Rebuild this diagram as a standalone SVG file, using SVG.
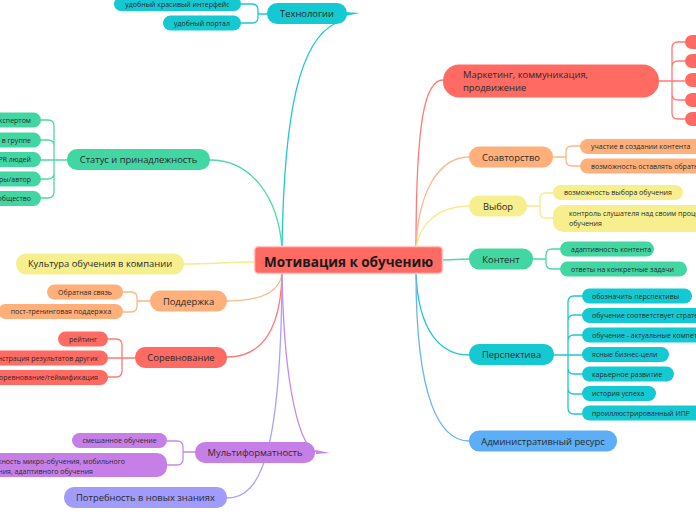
<svg xmlns="http://www.w3.org/2000/svg" width="696" height="520" viewBox="0 0 696 520">
<style>
text{font-family:"Open Sans","Noto Sans","Liberation Sans",sans-serif;fill:#2a2a2a}
.m{font-size:9.4px;text-anchor:middle}
.ml{font-size:9.4px}
.c{font-size:7px;text-anchor:middle}
.cl{font-size:7px}
.ce{font-size:7px;text-anchor:end}
.ln{fill:none;stroke-width:1.3;stroke-linecap:round}
.red{fill:#FF6B63}.ora{fill:#FFB07A}.yel{fill:#F7EF8E}.grn{fill:#42D6A2}.cyn{fill:#14C9D1}.pur{fill:#C77FE8}.lav{fill:#A29BFE}.blu{fill:#5CAEF6}
.sred{stroke:#FF7A72}.sora{stroke:#FFB589}.syel{stroke:#F4EC8A}.sgrn{stroke:#4FD8A8}.scyn{stroke:#1FC8D0}.spur{stroke:#C68BE8}.slav{stroke:#A9A2FE}.sblu{stroke:#67B4F6}
</style>
<g id="connectors">
<path class="ln scyn" d="M282,248 C284,110 300,40 336,23"/>
<polygon points="345,12 360,13 345,16" fill="#1FC8D0"/>
<path class="ln sgrn" d="M282,248 C278,195 250,160 210,160"/>
<path class="ln syel" d="M255,262 C230,262 210,264 184,264"/>
<path class="ln sora" d="M282,273 C280,292 262,301 227,301"/>
<path class="ln sred" d="M282,273 C281,330 262,357 227,357"/>
<path class="ln spur" d="M282,273 C284,390 300,450 318,452"/>
<polygon points="316,450 330,453 316,454" fill="#C68BE8"/>
<path class="ln slav" d="M282,273 C281,450 262,498 227,498"/>
<path class="ln sred" d="M416,248 C416,120 425,80 443,80"/>
<path class="ln sora" d="M416,248 C418,190 440,157 469,157"/>
<path class="ln syel" d="M416,248 C420,222 440,206 469,206"/>
<path class="ln sgrn" d="M443,260 L469,259"/>
<path class="ln scyn" d="M416,273 C418,330 440,355 469,355"/>
<path class="ln sblu" d="M416,273 C416,400 440,441 469,441"/>
<path class="ln scyn" d="M267,14 H258 M258,14 V10 Q258,4 252,4 H241 M258,14 V17 Q258,23 252,23 H241"/>
<path class="ln sgrn" d="M67,160 H54 M54,160 V126 Q54,120 48,120 H41 M54,160 V146 Q54,140 48,140 H41 M54,160 H41 M54,160 V173 Q54,179 48,179 H41 M54,160 V192 Q54,198 48,198 H41"/>
<path class="ln sora" d="M150,301 H137 M137,301 V298 Q137,292 131,292 H123 M137,301 V306 Q137,312 131,312 H123"/>
<path class="ln sred" d="M135,358 H122 M122,358 V345 Q122,339 116,339 H108 M122,358 H108 M122,358 V371 Q122,377 116,377 H108"/>
<path class="ln spur" d="M195,452 H183 M183,452 V447 Q183,441 177,441 H167 M183,452 V459 Q183,465 177,465 H167"/>
<path class="ln sred" d="M659,81 H672 M672,81 V48 Q672,42 678,42 H685 M672,81 V67 Q672,61 678,61 H685 M672,81 H685 M672,81 V94 Q672,100 678,100 H685 M672,81 V113 Q672,119 678,119 H685"/>
<path class="ln sora" d="M553,157 H566 M566,157 V152 Q566,146 572,146 H580 M566,157 V160 Q566,166 572,166 H580"/>
<path class="ln syel" d="M527,206 H540 M540,206 V199 Q540,193 546,193 H553 M540,206 V212 Q540,218 546,218 H553"/>
<path class="ln sgrn" d="M533,259 H546 M546,259 V255 Q546,249 552,249 H560 M546,259 V263 Q546,269 552,269 H560"/>
<path class="ln scyn" d="M554,355 H568 M568,355 V302 Q568,296 574,296 H582 M568,355 V321 Q568,315 574,315 H582 M568,355 V341 Q568,335 574,335 H582 M568,355 H582 M568,355 V368 Q568,374 574,374 H582 M568,355 V388 Q568,394 574,394 H582 M568,355 V408 Q568,414 574,414 H582"/>
</g>
<g id="root">
<rect x="254.5" y="246.5" width="188" height="27" rx="4" class="red" stroke="#FFC9C4" stroke-width="1.5"/>
<text x="348.5" y="266.5" style="font-size:13.5px;font-weight:bold;text-anchor:middle;fill:#1a1a1a">Мотивация к обучению</text>
</g>
<g id="n-tech">
<rect x="267" y="3" width="80" height="21" rx="10" class="cyn"/>
<text x="307" y="17.3" class="m">Технологии</text>
<rect x="114" y="-3" width="127" height="14" rx="7" class="cyn"/>
<text x="177.5" y="6.6" class="c">удобный красивый интерфейс</text>
<rect x="163" y="15.5" width="78" height="15" rx="7.5" class="cyn"/>
<text x="202" y="25.5" class="c">удобный портал</text>
</g>
<g id="n-status">
<rect x="67" y="149" width="143" height="21" rx="10" class="grn"/>
<text x="138.5" y="163.3" class="m">Статус и принадлежность</text>
<rect x="-20" y="112.5" width="61" height="15" rx="7.5" class="grn"/>
<text x="31" y="122.5" class="ce">быть экспертом</text>
<rect x="-20" y="132.5" width="61" height="15" rx="7.5" class="grn"/>
<text x="31" y="142.5" class="ce">статус в группе</text>
<rect x="-20" y="152" width="61" height="15" rx="7.5" class="grn"/>
<text x="31" y="162" class="ce">PR людей</text>
<rect x="-20" y="171.5" width="61" height="15" rx="7.5" class="grn"/>
<text x="31" y="181.5" class="ce">спикеры/автор</text>
<rect x="-20" y="191" width="61" height="15" rx="7.5" class="grn"/>
<text x="31" y="201" class="ce">сообщество</text>
</g>
<g id="n-culture">
<rect x="16" y="253.5" width="168" height="21" rx="10" class="yel"/>
<text x="100" y="267.3" class="m">Культура обучения в компании</text>
</g>
<g id="n-support">
<rect x="150" y="290.5" width="77" height="21" rx="10" class="ora"/>
<text x="188.5" y="304.8" class="m">Поддержка</text>
<rect x="47" y="284.5" width="76" height="15" rx="7.5" class="ora"/>
<text x="85" y="294.5" class="c">Обратная связь</text>
<rect x="-2" y="304" width="125" height="15" rx="7.5" class="ora"/>
<text x="61" y="314" class="c">пост-тренинговая поддержка</text>
</g>
<g id="n-compet">
<rect x="135" y="347" width="92" height="21" rx="10" class="red"/>
<text x="181" y="361.3" class="m">Соревнование</text>
<rect x="58" y="331.5" width="50" height="15" rx="7.5" class="red"/>
<text x="83" y="341.5" class="c">рейтинг</text>
<rect x="-20" y="350.5" width="128" height="15" rx="7.5" class="red"/>
<text x="98" y="360.5" class="ce">демонстрация результатов других</text>
<rect x="-20" y="370" width="128" height="15" rx="7.5" class="red"/>
<text x="98" y="380" class="ce">соревнование/геймификация</text>
</g>
<g id="n-multi">
<rect x="195" y="442" width="120" height="21" rx="10" class="pur"/>
<text x="255" y="456.3" class="m">Мультиформатность</text>
<rect x="72" y="433" width="95" height="15" rx="7.5" class="pur"/>
<text x="119.5" y="443" class="c">смешанное обучение</text>
<rect x="-20" y="453" width="187" height="24" rx="10" class="pur"/>
<text x="125" y="463.5" class="ce">возможность микро-обучения, мобильного</text>
<text x="93" y="473.5" class="ce">обучения, адаптивного обучения</text>
</g>
<g id="n-need">
<rect x="64" y="487" width="163" height="21" rx="10" class="lav"/>
<text x="145.5" y="501.3" class="m">Потребность в новых знаниях</text>
</g>
<g id="n-marketing">
<rect x="443" y="64.5" width="216" height="33" rx="16" class="red"/>
<text x="463" y="78" class="ml">Маркетинг, коммуникация,</text>
<text x="463" y="91" class="ml">продвижение</text>
<rect x="685" y="35" width="30" height="14" rx="7" class="red"/>
<rect x="685" y="54" width="30" height="14" rx="7" class="red"/>
<rect x="685" y="73" width="30" height="14" rx="7" class="red"/>
<rect x="685" y="93" width="30" height="14" rx="7" class="red"/>
<rect x="685" y="112" width="30" height="14" rx="7" class="red"/>
</g>
<g id="n-coauthor">
<rect x="469" y="146.5" width="84" height="21" rx="10" class="ora"/>
<text x="511" y="160.8" class="m">Соавторство</text>
<rect x="580" y="139" width="130" height="15" rx="7.5" class="ora"/>
<text x="591" y="149" class="cl">участие в создании контента</text>
<rect x="580" y="158.5" width="130" height="15" rx="7.5" class="ora"/>
<text x="591" y="168.5" class="cl">возможность оставлять обратную связь</text>
</g>
<g id="n-choice">
<rect x="469" y="195.5" width="58" height="21" rx="10" class="yel"/>
<text x="498" y="209.8" class="m">Выбор</text>
<rect x="553" y="185" width="130" height="15" rx="7.5" class="yel"/>
<text x="564" y="195" class="cl">возможность выбора обучения</text>
<rect x="553" y="205" width="160" height="27" rx="10" class="yel"/>
<text x="569" y="216" class="cl">контроль слушателя над своим процессом</text>
<text x="569" y="225.8" class="cl">обучения</text>
</g>
<g id="n-content">
<rect x="469" y="248.5" width="64" height="21" rx="10" class="grn"/>
<text x="501" y="262.8" class="m">Контент</text>
<rect x="560" y="241.5" width="94" height="15" rx="7.5" class="grn"/>
<text x="571" y="251.5" class="cl">адаптивность контента</text>
<rect x="560" y="261.5" width="127" height="15" rx="7.5" class="grn"/>
<text x="571" y="271.5" class="cl">ответы на конкретные задачи</text>
</g>
<g id="n-persp">
<rect x="469" y="344" width="85" height="21" rx="10" class="cyn"/>
<text x="511.5" y="358.3" class="m">Перспектива</text>
<rect x="582" y="288.5" width="110" height="15" rx="7.5" class="cyn"/>
<text x="592" y="298.5" class="cl">обозначить перспективы</text>
<rect x="582" y="308" width="130" height="15" rx="7.5" class="cyn"/>
<text x="592" y="318" class="cl">обучение соответствует стратегии</text>
<rect x="582" y="327.5" width="130" height="15" rx="7.5" class="cyn"/>
<text x="592" y="337.5" class="cl">обучение - актуальные компетенции</text>
<rect x="582" y="347" width="87" height="15" rx="7.5" class="cyn"/>
<text x="592" y="357" class="cl">ясные бизнес-цели</text>
<rect x="582" y="366.5" width="92" height="15" rx="7.5" class="cyn"/>
<text x="592" y="376.5" class="cl">карьерное развитие</text>
<rect x="582" y="386" width="74" height="15" rx="7.5" class="cyn"/>
<text x="592" y="396" class="cl">история успеха</text>
<rect x="582" y="405.5" width="125" height="15" rx="7.5" class="cyn"/>
<text x="592" y="415.5" class="cl">проиллюстрированный ИПР</text>
</g>
<g id="n-admin">
<rect x="469" y="430.5" width="148" height="21" rx="10" class="blu"/>
<text x="543" y="444.8" class="m">Административный ресурс</text>
</g>
</svg>
